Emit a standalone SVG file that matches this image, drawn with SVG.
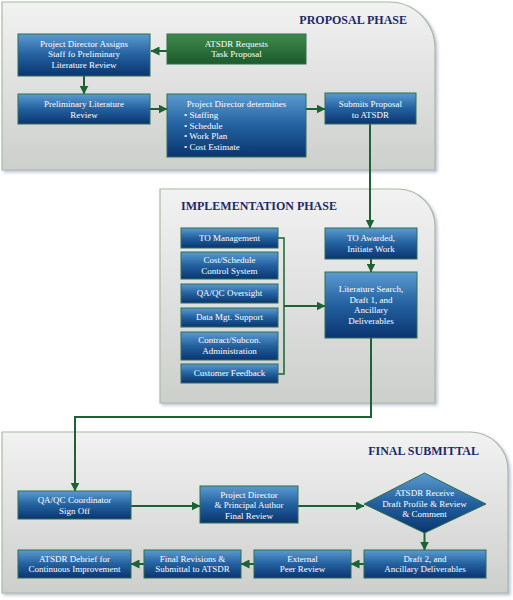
<svg xmlns="http://www.w3.org/2000/svg" width="513" height="600" viewBox="0 0 513 600">
<defs>
<linearGradient id="gPanel" x1="0" y1="0" x2="0" y2="1">
<stop offset="0" stop-color="#f1f2f1"/>
<stop offset="1" stop-color="#cdcfcd"/>
</linearGradient>
<linearGradient id="gBlue" x1="0" y1="0" x2="0" y2="1">
<stop offset="0" stop-color="#5b9bd0"/>
<stop offset="0.5" stop-color="#23609f"/>
<stop offset="1" stop-color="#0a3570"/>
</linearGradient>
<linearGradient id="gGreen" x1="0" y1="0" x2="0" y2="1">
<stop offset="0" stop-color="#3f8a4c"/>
<stop offset="1" stop-color="#1c5a2b"/>
</linearGradient>
<filter id="shadow" x="-5%" y="-5%" width="112%" height="115%">
<feDropShadow dx="2" dy="2" stdDeviation="1.5" flood-color="#8a92b8" flood-opacity="0.55"/>
</filter>
<marker id="arr" markerUnits="userSpaceOnUse" markerWidth="9" markerHeight="9" viewBox="0 0 9 9" refX="8.5" refY="4.5" orient="auto">
<path d="M0,0 L9,4.5 L0,9 Z" fill="#1b6334"/>
</marker>
</defs>
<style>
.panel{fill:url(#gPanel);stroke:#a9b9a3;stroke-width:1.2;filter:url(#shadow)}
.box{fill:url(#gBlue);stroke:#2e6e50;stroke-width:1}
.gbox{fill:url(#gGreen);stroke:#2e6e50;stroke-width:1}
.t{font-family:"Liberation Serif","Times New Roman",serif;font-size:9px;fill:#ffffff;text-anchor:middle}
.tl{font-family:"Liberation Serif","Times New Roman",serif;font-size:9px;fill:#ffffff}
.title{font-family:"Liberation Serif","Times New Roman",serif;font-size:12px;font-weight:bold;fill:#1c2a6a}
.c{fill:none;stroke:#1b6334;stroke-width:2}
.ca{fill:none;stroke:#1b6334;stroke-width:2;marker-end:url(#arr)}
.cb{fill:none;stroke:#1b6334;stroke-width:1.5}
</style>

<g id="panels">
<path class="panel" d="M2,2 H389 A46,46 0 0 1 435,48 V170 H2 Z"/>
<path class="panel" d="M160,189 H398 A37,37 0 0 1 435,226 V403 H160 Z"/>
<path class="panel" d="M2,432 H470 A38,38 0 0 1 508,470 V593 H2 Z"/>
<text class="title" x="407" y="24" text-anchor="end">PROPOSAL PHASE</text>
<text class="title" x="181" y="210">IMPLEMENTATION PHASE</text>
<text class="title" x="479" y="455" text-anchor="end">FINAL SUBMITTAL</text>
</g>

<g id="connectors">
<line class="ca" x1="167" y1="51" x2="151" y2="51"/>
<line class="ca" x1="84" y1="76" x2="84" y2="94"/>
<line class="ca" x1="150" y1="109" x2="167" y2="109"/>
<line class="ca" x1="306" y1="109" x2="325" y2="109"/>
<line class="ca" x1="370" y1="124" x2="370" y2="228"/>
<line class="ca" x1="371" y1="259" x2="371" y2="272"/>
<polyline class="cb" points="278,238 284,238 284,374 278,374"/>
<line class="ca" x1="284" y1="306" x2="325" y2="306"/>
<polyline class="ca" points="371,338 371,417 75,417 75,491"/>
<line class="ca" x1="131" y1="506" x2="200" y2="506"/>
<line class="ca" x1="298" y1="506" x2="364" y2="506"/>
<line class="ca" x1="424.5" y1="533" x2="424.5" y2="550"/>
<line class="ca" x1="364" y1="564" x2="351" y2="564"/>
<line class="ca" x1="254" y1="564" x2="241" y2="564"/>
<line class="ca" x1="144" y1="564" x2="131" y2="564"/>
</g>

<g id="n-assign">
<rect class="box" x="18" y="34" width="132" height="42"/>
<text class="t" x="84" y="46.7">Project Director Assigns</text>
<text class="t" x="84" y="57.3">Staff fo Preliminary</text>
<text class="t" x="84" y="68">Literature Review</text>
</g>
<g id="n-atsdr-request">
<rect class="gbox" x="167" y="34" width="139" height="30"/>
<text class="t" x="236.5" y="46.5">ATSDR Requests</text>
<text class="t" x="236.5" y="57">Task Proposal</text>
</g>
<g id="n-prelim">
<rect class="box" x="18" y="94" width="132" height="30"/>
<text class="t" x="84" y="107">Preliminary Literature</text>
<text class="t" x="84" y="117.7">Review</text>
</g>
<g id="n-determines">
<rect class="box" x="167" y="94" width="139" height="63"/>
<text class="t" x="236.5" y="107">Project Director determines</text>
<text class="tl" x="184" y="118">• Staffing</text>
<text class="tl" x="184" y="128.7">• Schedule</text>
<text class="tl" x="184" y="139">• Work Plan</text>
<text class="tl" x="184" y="149.7">• Cost Estimate</text>
</g>
<g id="n-submits">
<rect class="box" x="325" y="93" width="91" height="31"/>
<text class="t" x="370.5" y="107">Submits Proposal</text>
<text class="t" x="370.5" y="118">to ATSDR</text>
</g>

<g id="n-to-mgmt">
<rect class="box" x="181" y="228" width="97" height="20"/>
<text class="t" x="229.5" y="241">TO Management</text>
</g>
<g id="n-cost">
<rect class="box" x="181" y="252" width="97" height="27"/>
<text class="t" x="229.5" y="263">Cost/Schedule</text>
<text class="t" x="229.5" y="273.7">Control System</text>
</g>
<g id="n-qaqc-oversight">
<rect class="box" x="181" y="284" width="97" height="19"/>
<text class="t" x="229.5" y="296">QA/QC Oversight</text>
</g>
<g id="n-data">
<rect class="box" x="181" y="308" width="97" height="19"/>
<text class="t" x="229.5" y="320">Data Mgt. Support</text>
</g>
<g id="n-contract">
<rect class="box" x="181" y="332" width="97" height="28"/>
<text class="t" x="229.5" y="343">Contract/Subcon.</text>
<text class="t" x="229.5" y="354">Administration</text>
</g>
<g id="n-feedback">
<rect class="box" x="181" y="364" width="97" height="19"/>
<text class="t" x="229.5" y="376.3">Customer Feedback</text>
</g>
<g id="n-to-awarded">
<rect class="box" x="325" y="228" width="92" height="31"/>
<text class="t" x="371" y="241.3">TO Awarded,</text>
<text class="t" x="371" y="251.5">Initiate Work</text>
</g>
<g id="n-litsearch">
<rect class="box" x="325" y="272" width="92" height="66"/>
<text class="t" x="371" y="292.3">Literature Search,</text>
<text class="t" x="371" y="302.7">Draft 1, and</text>
<text class="t" x="371" y="313.2">Ancillary</text>
<text class="t" x="371" y="324">Deliverables</text>
</g>

<g id="n-qaqc-signoff">
<rect class="box" x="18" y="491" width="113" height="28"/>
<text class="t" x="74.5" y="503">QA/QC Coordinator</text>
<text class="t" x="74.5" y="513.7">Sign Off</text>
</g>
<g id="n-final-review">
<rect class="box" x="200" y="486" width="98" height="37"/>
<text class="t" x="249" y="498">Project Director</text>
<text class="t" x="249" y="508.3">&amp; Principal Author</text>
<text class="t" x="249" y="518.7">Final Review</text>
</g>
<g id="n-atsdr-receive">
<polygon class="box" points="364,504 424.5,473 486,504 424.5,533"/>
<text class="t" x="424.5" y="496.3">ATSDR Receive</text>
<text class="t" x="424.5" y="507">Draft Profile &amp; Review</text>
<text class="t" x="424.5" y="517.3">&amp; Comment</text>
</g>
<g id="n-draft2">
<rect class="box" x="364" y="550" width="122" height="28"/>
<text class="t" x="425" y="562">Draft 2, and</text>
<text class="t" x="425" y="572.3">Ancillary Deliverables</text>
</g>
<g id="n-peer">
<rect class="box" x="254" y="550" width="97" height="28"/>
<text class="t" x="302.5" y="562">External</text>
<text class="t" x="302.5" y="572.3">Peer Review</text>
</g>
<g id="n-final-rev">
<rect class="box" x="144" y="550" width="97" height="28"/>
<text class="t" x="192.5" y="562">Final Revisions &amp;</text>
<text class="t" x="192.5" y="572.3">Submittal to ATSDR</text>
</g>
<g id="n-debrief">
<rect class="box" x="18" y="550" width="113" height="28"/>
<text class="t" x="74.5" y="562">ATSDR Debrief for</text>
<text class="t" x="74.5" y="572.3">Continuous Improvement</text>
</g>
</svg>
